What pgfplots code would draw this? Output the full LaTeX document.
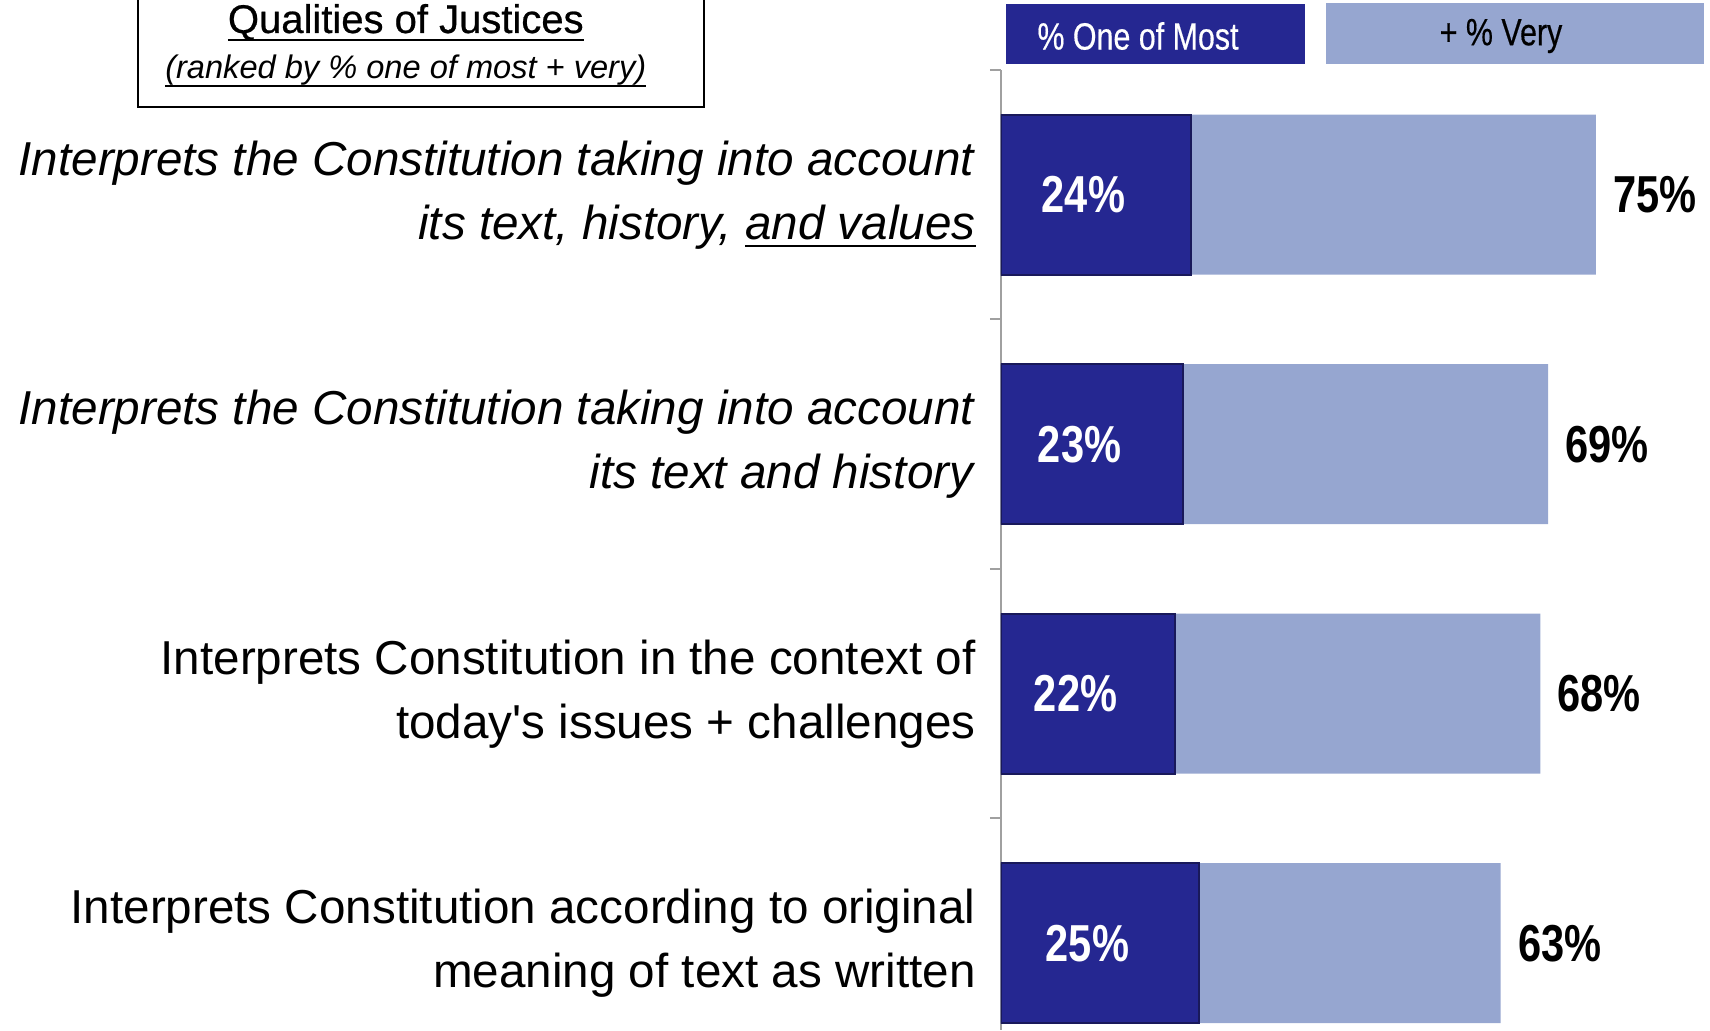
\documentclass[border=0pt]{standalone}
\usepackage{pgfplots}
\pgfplotsset{compat=1.18}
\usepackage{fontspec}
\setmainfont{Liberation Sans}[Ligatures=TeXOff]
\newfontfamily\numfont[FakeStretch=0.8]{Liberation Sans}
\newfontfamily\legfont[FakeStretch=0.8,FakeBold=0.4]{Liberation Sans}
\newfontfamily\titlefont[FakeBold=0.6]{Liberation Sans}
\definecolor{darkc}{RGB}{37,39,145}
\definecolor{bordc}{RGB}{25,25,90}
\definecolor{lightc}{RGB}{150,166,208}
\definecolor{axisgray}{RGB}{160,160,160}
\newsavebox\ulbox
\newcommand\ul[1]{\sbox\ulbox{#1}\leavevmode\rlap{\rule[-4.2pt]{\wd\ulbox}{1.2pt}}\usebox\ulbox}
\begin{document}
\begin{tikzpicture}
\useasboundingbox (0,0) rectangle (855pt,515pt);
\begin{axis}[
  at={(500.5pt,0pt)}, anchor=south west,
  scale only axis, width=354.5pt, height=480pt,
  xmin=0, xmax=89.4,
  ymin=-0.5, ymax=3.348, y dir=reverse,
  hide x axis,
  axis y line*=left,
  y axis line style={draw=axisgray, line width=1pt},
  ytick={0,1,2,3},
  yticklabels={
    {\textit{Interprets the Constitution taking into account}\\\textit{its text, history, \ul{and values}}},
    {\textit{Interprets the Constitution taking into account}\\\textit{its text and history}},
    {Interprets Constitution in the context of\\today's issues + challenges},
    {Interprets Constitution according to original\\meaning of text as written}},
  major tick length=0pt,
  minor ytick={-0.5,0.5,1.5,2.5},
  minor tick length=5.5pt,
  tick align=outside,
  minor tick style={draw=axisgray, line width=1pt},
  yticklabel style={align=right, inner sep=0pt, xshift=-12.5pt, font=\fontsize{23.8}{32}\selectfont},
  /pgf/number format/assume math mode=true,
]
\addplot[xbar, bar width=80pt, fill=lightc, draw=none, bar shift=0pt,
  nodes near coords={\pgfmathprintnumber{\pgfplotspointmeta}\%},
  nodes near coords style={anchor=west, inner sep=0pt, xshift=8.5pt, text=black, font=\numfont\bfseries\fontsize{26}{30}\selectfont}]
  coordinates {(75,0) (69,1) (68,2) (63,3)};
\addplot[xbar, bar width=80pt, fill=darkc, draw=bordc, line width=1pt, bar shift=0pt]
  coordinates {(24,0) (23,1) (22,2) (25,3)};
% labels of the dark bars, set near the middle of each bar
\addplot[draw=none, mark=none, point meta=explicit symbolic,
  nodes near coords, nodes near coords align=center,
  nodes near coords style={anchor=center, inner sep=0pt, text=white, font=\numfont\bfseries\fontsize{26}{30}\selectfont}]
  coordinates {(10.4,0) [24\%] (9.9,1) [23\%] (9.4,2) [22\%] (10.9,3) [25\%]};
\end{axis}
% title box
\draw[line width=1.2pt] (69pt,461.5pt) rectangle (352pt,530pt);
\node[anchor=base, inner sep=0pt] at (202.9pt,498.5pt) {\titlefont\fontsize{20}{24}\selectfont\ul{Qualities of Justices}};
\node[anchor=base, inner sep=0pt] at (202.9pt,475.7pt) {\fontsize{16.3}{20}\selectfont\ul{\textit{(ranked by \% one of most + very)}}};
% legend
\fill[darkc] (503pt,483pt) rectangle (652.5pt,513pt);
\node[text=white, inner sep=0pt, font=\legfont\fontsize{19}{22}\selectfont] at (569pt,497pt) {\% One of Most};
\fill[lightc] (663pt,483pt) rectangle (852pt,513.5pt);
\node[text=black, inner sep=0pt, font=\legfont\fontsize{19}{22}\selectfont] at (750.5pt,497pt) {+ \% Very};
\end{tikzpicture}
\end{document}
